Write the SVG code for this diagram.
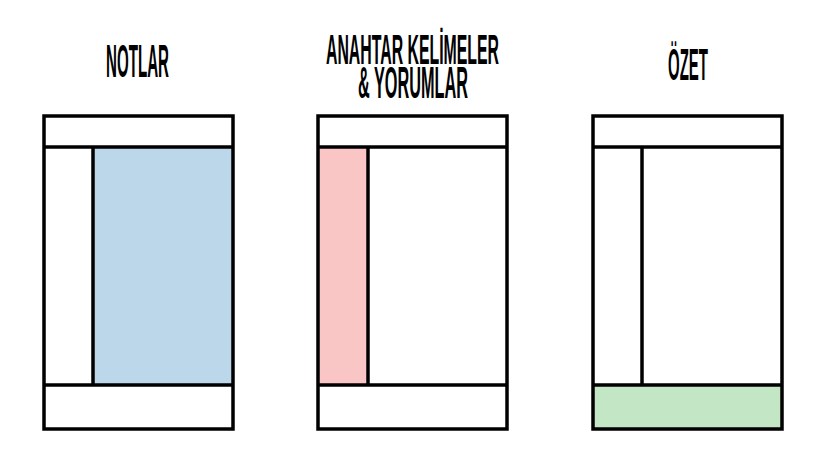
<svg xmlns="http://www.w3.org/2000/svg" width="825" height="461" viewBox="0 0 825 461">
<style>
.frame{fill:none;stroke:#000;stroke-width:3.5}
.line{stroke:#000;stroke-width:3.5}
.t{font-family:"Liberation Sans",Arial,sans-serif;font-weight:bold;font-size:36px;fill:#000}
</style>
<rect width="825" height="461" fill="#fff"/>
<g id="notlar">
<text class="t" x="106" y="77" textLength="63" lengthAdjust="spacingAndGlyphs" transform="translate(0,77) scale(1,1.3) translate(0,-77)">NOTLAR</text>
<rect x="94" y="148" width="138" height="237" fill="#bdd7ea"/>
<rect class="frame" x="44" y="116" width="189" height="313"/>
<line class="line" x1="44" y1="147" x2="233" y2="147"/>
<line class="line" x1="44" y1="385" x2="233" y2="385"/>
<line class="line" x1="93" y1="147" x2="93" y2="385"/>
</g>
<g id="anahtar">
<text class="t" x="326" y="64" textLength="173" lengthAdjust="spacingAndGlyphs" transform="translate(0,64) scale(1,1.2) translate(0,-64)">ANAHTAR KELİMELER</text>
<text class="t" x="358" y="98" textLength="110" lengthAdjust="spacingAndGlyphs" transform="translate(0,98) scale(1,1.25) translate(0,-98)">&amp; YORUMLAR</text>
<rect x="319" y="148" width="48" height="237" fill="#f9c6c5"/>
<rect class="frame" x="318" y="116" width="189" height="313"/>
<line class="line" x1="318" y1="147" x2="507" y2="147"/>
<line class="line" x1="318" y1="385" x2="507" y2="385"/>
<line class="line" x1="368" y1="147" x2="368" y2="385"/>
</g>
<g id="ozet">
<text class="t" x="668" y="80" textLength="40" lengthAdjust="spacingAndGlyphs" transform="translate(0,80) scale(1,1.25) translate(0,-80)">ÖZET</text>
<rect x="593" y="386" width="188" height="42" fill="#c3e6c4"/>
<rect class="frame" x="593" y="116" width="189" height="313"/>
<line class="line" x1="593" y1="147" x2="782" y2="147"/>
<line class="line" x1="593" y1="385" x2="782" y2="385"/>
<line class="line" x1="642" y1="147" x2="642" y2="385"/>
</g>
</svg>
